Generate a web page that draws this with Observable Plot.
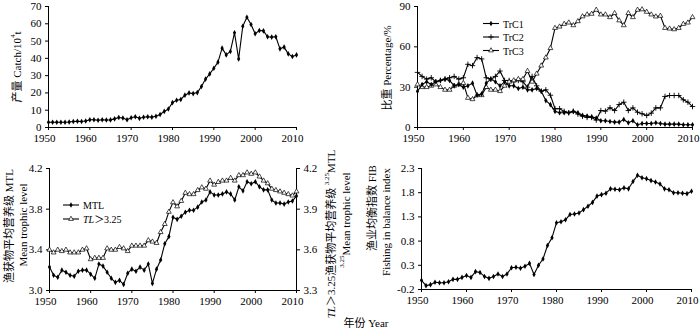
<!DOCTYPE html>
<html><head><meta charset="utf-8">
<script src="https://cdn.jsdelivr.net/npm/d3@7"></script>
<script src="https://cdn.jsdelivr.net/npm/@observablehq/plot@0.6"></script>
<style>
body{margin:0;background:#fff;}
#wrap{position:relative;width:700px;height:329px;overflow:hidden;background:#fff;}
#wrap > svg{position:absolute;}
</style></head><body><div id="wrap"></div>
<script>
const FONT = '"Liberation Serif","Times New Roman","Noto Sans CJK SC",serif';

const years = [1950,1951,1952,1953,1954,1955,1956,1957,1958,1959,
1960,1961,1962,1963,1964,1965,1966,1967,1968,1969,
1970,1971,1972,1973,1974,1975,1976,1977,1978,1979,
1980,1981,1982,1983,1984,1985,1986,1987,1988,1989,
1990,1991,1992,1993,1994,1995,1996,1997,1998,1999,
2000,2001,2002,2003,2004,2005,2006,2007,2008,2009,2010];

const xTicks = [1950,1960,1970,1980,1990,2000,2010];

// Catch, 10^4 t
const catchVals = [3.0,3.0,3.0,3.0,3.0,3.2,3.5,3.6,3.5,3.8,
4.5,4.5,4.2,4.5,4.3,4.4,5.0,5.8,5.5,4.5,
5.6,6.2,5.3,5.9,6.2,6.0,6.5,7.5,9.3,10.7,
14.4,15.8,16.2,18.7,20.0,19.6,20.2,23.7,28.0,31.0,
34.3,37.8,45.9,42.0,44.0,54.8,39.7,58.6,63.8,59.6,
54.2,56.1,55.9,52.5,52.3,52.5,45.5,46.5,42.6,41.1,42.0];

// Percentages
const trc1 = [27,32,34,32,34,35,36,35,31,32,
30,31,33,24,25,33,36,34,31,34,
31,31,29,30,28,28,29,27,20,17,
12,11,11,11,12,11,9,8.5,8,7,
5,5,4.5,4,4,6,3.5,5,2,3,
3,3,3.5,3,2.5,2.5,2.5,2.5,2,2,2];
const trc2 = [41,38,36,37,34,35,36,37,38,36,
37,47,46,52,51,37,36,38,42,35,
35,34,35,34,30,38,31,27,28,24,
14,14,12,11,12,10,8.4,7.5,7.5,5.5,
12.6,12.2,14.7,12.6,17.1,18.8,12.6,14.6,11.4,10.2,
8.9,10.7,14.6,14.6,23.1,23.8,23.8,23.8,20.6,18.8,15.6];
const trc3 = [32,30,30,31,32,30,28,28,31,32,
33,22,21,24,24,30,28,28,27,31,
34,35,36,36,42,34,40,46,52,59,
74,75,77,78,76,79,82.6,84,84.5,87.5,
84,84,82,85,79.6,76,85,82,87.5,87.8,
86,84,82.5,83,74,73.5,73,74,77,78,82];

// Mean trophic level
const mtl = [3.23,3.15,3.13,3.20,3.18,3.15,3.14,3.19,3.20,3.20,
3.16,3.12,3.26,3.24,3.18,3.12,3.08,3.10,3.06,3.17,
3.21,3.19,3.23,3.20,3.26,3.07,3.21,3.30,3.46,3.53,
3.72,3.70,3.73,3.77,3.79,3.79,3.82,3.87,3.89,3.97,
3.94,3.94,3.95,3.97,3.95,3.89,4.02,3.98,4.07,4.05,
4.07,4.02,3.99,3.99,3.89,3.86,3.86,3.85,3.87,3.88,3.93];
// TL > 3.25 mean trophic level (right axis)
const tl325 = [3.60,3.58,3.60,3.59,3.60,3.58,3.58,3.58,3.60,3.61,
3.53,3.54,3.54,3.54,3.61,3.60,3.60,3.62,3.61,3.59,
3.63,3.63,3.63,3.63,3.67,3.66,3.65,3.73,3.79,3.88,
3.95,3.92,3.96,4.02,4.01,4.01,4.04,4.06,4.05,4.11,
4.08,4.10,4.11,4.11,4.13,4.11,4.15,4.15,4.17,4.16,
4.17,4.14,4.11,4.09,4.05,4.04,4.03,4.02,4.01,4.00,4.03];

// Fishing in balance index
const fib = [-0.01,-0.12,-0.10,-0.05,-0.06,-0.06,-0.04,0.01,0.01,0.05,
0.09,0.05,0.17,0.15,0.07,0.03,0.07,0.12,0.07,0.12,
0.25,0.26,0.24,0.28,0.34,0.11,0.30,0.43,0.71,0.87,
1.18,1.20,1.24,1.35,1.36,1.38,1.45,1.52,1.60,1.73,
1.76,1.79,1.88,1.87,1.86,1.90,1.88,2.03,2.16,2.11,
2.09,2.05,2.02,1.98,1.88,1.86,1.80,1.80,1.79,1.78,1.83];

const catchTicks = [0,10,20,30,40,50,60,70];
const pctTicks = [0,30,60,90];
const mtlTicks = [3.0,3.4,3.8,4.2];
const tlTickLabels = ["3.3","3.6","3.9","4.2"];
const fibTicks = [-0.2,0.3,0.8,1.3,1.8,2.3];

const rows = (vals) => years.map((y, i) => ({year: y, v: vals[i]}));
const wrap = document.getElementById("wrap");

// right-axis (TL>3.25: 3.3–4.2) expressed on the left scale (3.0–4.2)
const tlToLeft = v => 3.0 + (v - 3.3) * (1.2 / 0.9);

function series(data, kind, yf) {
  const y = yf || "v";
  const out = [Plot.line(data, {x: "year", y, stroke: "#000", strokeWidth: 1.1})];
  if (kind === "diamond") out.push(Plot.dot(data, {x: "year", y, symbol: "diamond", fill: "#000", r: 1.7}));
  if (kind === "plus") out.push(Plot.dot(data, {x: "year", y, symbol: "plus", stroke: "#000", strokeWidth: 0.9, r: 1.9}));
  if (kind === "triangle") out.push(Plot.dot(data, {x: "year", y, symbol: "triangle", fill: "#fff", stroke: "#000", strokeWidth: 0.7, r: 1.8}));
  return out;
}

function panel({left, top, right, bottom, yDomain, yTicks, yFmt, marks, rightAxis}) {
  const mL = 42, mR = rightAxis ? 30 : 8, mT = 6, mB = 22;
  const p = Plot.plot({
    width: right - left + mL + mR,
    height: bottom - top + mT + mB,
    marginLeft: mL, marginRight: mR, marginTop: mT, marginBottom: mB,
    style: {fontFamily: FONT, fontSize: "11px", color: "#000", background: "transparent", overflow: "visible"},
    x: {domain: [1950, 2010]},
    y: {domain: yDomain},
    marks: [
      Plot.ruleY([yDomain[0]], {stroke: "#000", strokeWidth: 1}),
      Plot.ruleX([1950], {stroke: "#000", strokeWidth: 1}),
      rightAxis ? Plot.ruleX([2010], {stroke: "#000", strokeWidth: 1}) : null,
      Plot.axisX({ticks: xTicks, tickFormat: d => String(d), tickSize: 3, tickPadding: 4, label: null, fontSize: 11}),
      Plot.axisY({ticks: yTicks, tickFormat: yFmt, tickSize: 3, tickPadding: 4, label: null, fontSize: 11}),
      rightAxis ? Plot.axisY({anchor: "right", ticks: yTicks, tickFormat: rightAxis, tickSize: 3, tickPadding: 4, label: null, fontSize: 11}) : null,
      ...marks
    ]
  });
  p.style.left = (left - mL) + "px";
  p.style.top = (top - mT) + "px";
  // nudge x tick labels slightly left, as in the reference
  d3.select(p).selectAll("g[aria-label='x-axis tick label'] text").attr("dx", -4);
  wrap.appendChild(p);
}

// Panel 1: catch
panel({left: 48, top: 6, right: 296, bottom: 127, yDomain: [0, 70], yTicks: catchTicks,
  yFmt: d => String(d), marks: series(rows(catchVals), "diamond")});

// Panel 2: percentages
panel({left: 417, top: 6, right: 692, bottom: 127, yDomain: [0, 90], yTicks: pctTicks,
  yFmt: d => String(d),
  marks: [...series(rows(trc2), "plus"), ...series(rows(trc3), "triangle"), ...series(rows(trc1), "diamond")]});

// Panel 3: MTL (dual axis)
panel({left: 49, top: 168, right: 296, bottom: 290, yDomain: [3.0, 4.2], yTicks: mtlTicks,
  yFmt: d => d.toFixed(1),
  rightAxis: d => tlTickLabels[mtlTicks.findIndex(t => Math.abs(t - d) < 1e-9)],
  marks: [...series(rows(tl325), "triangle", d => tlToLeft(d.v)), ...series(rows(mtl), "diamond")]});

// Panel 4: FIB
panel({left: 421, top: 168, right: 691, bottom: 289, yDomain: [-0.2, 2.3], yTicks: fibTicks,
  yFmt: d => d.toFixed(1), marks: series(rows(fib), "diamond")});

// Overlay: axis titles and legends
const ov = d3.select(wrap).append("svg")
  .attr("width", 700).attr("height", 329)
  .style("left", "0px").style("top", "0px")
  .style("font-family", FONT).style("font-size", "11px");

function vtext(x, y, parts, size) {
  const t = ov.append("text")
    .attr("transform", `translate(${x},${y}) rotate(-90)`)
    .attr("text-anchor", "middle").attr("dominant-baseline", "central")
    .style("font-size", (size || 11) + "px");
  parts.forEach(p => {
    const s = t.append("tspan").text(p.t);
    if (p.sup) s.style("font-size", "7px").attr("dy", p.dy);
    if (p.dy && !p.sup) s.attr("dy", p.dy);
    if (p.it) s.style("font-style", "italic");
  });
  return t;
}

vtext(17, 67, [{t: "产量 Catch/10"}, {t: "4", sup: true, dy: -4}, {t: "t", dy: 4}]);
vtext(387, 68, [{t: "比重 Percentage/%"}]);
vtext(9, 226, [{t: "渔获物平均营养级 MTL"}]);
vtext(23, 225, [{t: "Mean trophic level"}]);
vtext(331, 234, [{t: "TL", it: true}, {t: "＞3.25渔获物平均营养级 "}, {t: "3.25", sup: true, dy: -4}, {t: "MTL", dy: 4}]);
vtext(346, 220, [{t: "3.25", sup: true, dy: -4}, {t: "Mean trophic level", dy: 4}]);
vtext(372, 208, [{t: "渔业均衡指数 FIB"}]);
vtext(386, 222, [{t: "Fishing in balance index"}]);

ov.append("text").attr("x", 366).attr("y", 323).attr("text-anchor", "middle")
  .attr("dominant-baseline", "central").style("font-size", "11px").text("年份 Year");

// Legends (drawn with d3 symbols)
function legendItem(x, y, label, kind, italicPrefix) {
  ov.append("line").attr("x1", x).attr("x2", x + 16).attr("y1", y).attr("y2", y)
    .attr("stroke", "#000").attr("stroke-width", 1.1);
  let sym;
  if (kind === "diamond") sym = ov.append("path").attr("d", d3.symbol(d3.symbolDiamond, 9)()).attr("fill", "#000");
  if (kind === "plus") sym = ov.append("path").attr("d", d3.symbol(d3.symbolPlus, 11)()).attr("fill", "none").attr("stroke", "#000").attr("stroke-width", 0.9);
  if (kind === "triangle") sym = ov.append("path").attr("d", d3.symbol(d3.symbolTriangle, 10)()).attr("fill", "#fff").attr("stroke", "#000").attr("stroke-width", 0.7);
  sym.attr("transform", `translate(${x + 8},${y})`);
  const t = ov.append("text").attr("x", x + 20).attr("y", y).attr("dominant-baseline", "central")
    .style("font-size", "10px");
  if (italicPrefix) {
    t.append("tspan").style("font-style", "italic").text(italicPrefix);
  }
  t.append("tspan").text(label);
}
legendItem(483, 23.5, "TrC1", "diamond");
legendItem(483, 37, "TrC2", "plus");
legendItem(483, 50.5, "TrC3", "triangle");
legendItem(63, 205, "MTL", "diamond");
legendItem(63, 219, "＞3.25", "triangle", "TL");
</script></body></html>
